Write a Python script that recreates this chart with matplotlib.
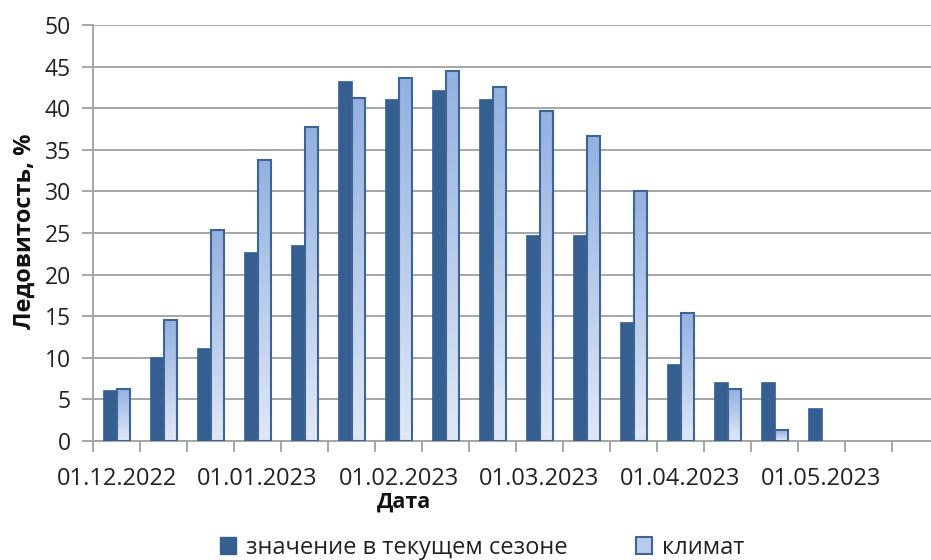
import numpy as np
import matplotlib.pyplot as plt
from matplotlib.patches import Rectangle
from matplotlib.colors import LinearSegmentedColormap

plt.rcParams['font.family'] = ['Open Sans', 'DejaVu Sans']

# декадные даты
dates = ["01.12.2022", "10.12.2022", "20.12.2022", "01.01.2023", "10.01.2023",
         "20.01.2023", "01.02.2023", "10.02.2023", "20.02.2023", "01.03.2023",
         "10.03.2023", "20.03.2023", "01.04.2023", "10.04.2023", "20.04.2023",
         "01.05.2023", "10.05.2023", "20.05.2023"]
tekushiy = [6.1, 10.1, 11.2, 22.7, 23.6, 43.3, 41.1, 42.2, 41.1, 24.7,
            24.7, 14.3, 9.2, 7.1, 7.1, 4.0, np.nan, np.nan]
klimat = [6.2, 14.5, 25.4, 33.8, 37.7, 41.2, 43.6, 44.5, 42.5, 39.7,
          36.6, 30.1, 15.4, 6.2, 1.3, np.nan, np.nan, np.nan]

dark = "#365f91"
edge = "#3c6496"
grad = LinearSegmentedColormap.from_list("g", ["#e0e8f6", "#93b1e1"])

fig = plt.figure(figsize=(9.31, 5.6), dpi=100)
ax = fig.add_axes([93/931, 1 - 441/560, 846/931, 416/560])

x = np.arange(len(dates))
w = 0.285
ax.bar(x - w/2, tekushiy, width=w, color=dark, edgecolor=dark, linewidth=0.5, zorder=3)

g = np.linspace(0, 1, 100).reshape(-1, 1)
for xi, v in zip(x, klimat):
    if np.isnan(v):
        continue
    ax.imshow(g, extent=[xi, xi + w, 0, v], origin='lower', aspect='auto',
              cmap=grad, zorder=3, interpolation='bilinear')
    ax.add_patch(Rectangle((xi, 0), w, v, facecolor='none', edgecolor=edge,
                           linewidth=1.5, zorder=4))

ax.set_xlim(-0.5, len(dates) - 0.5)
ax.set_ylim(0, 50)
ax.set_yticks(np.arange(0, 51, 5))
ax.grid(axis='y', color='#a6a6a6', linewidth=1.4)
ax.set_axisbelow(True)

ax.set_xticks(x[::3])
ax.set_xticklabels(dates[::3])
ax.set_xticks(np.arange(-0.5, len(dates), 1), minor=True)
ax.tick_params(axis='x', which='major', length=0, pad=19, labelsize=17, colors='#222222')
ax.tick_params(axis='x', which='minor', length=8, width=1.4, color='#a6a6a6')
ax.tick_params(axis='y', length=8, width=1.4, color='#a6a6a6', pad=8, labelsize=16.5,
               labelcolor='#222222')

for s in ['top', 'right']:
    ax.spines[s].set_visible(False)
for s in ['left', 'bottom']:
    ax.spines[s].set_color('#a6a6a6')
    ax.spines[s].set_linewidth(1.4)

fig.text(25/931, 1 - 231/560, "Ледовитость, %", rotation=90, ha='center', va='center',
         fontsize=17, fontweight='bold', color='#111111')
fig.text(404/931, 1 - 502/560, "Дата", ha='center', va='center',
         fontsize=15.5, fontweight='bold', color='#111111')

h1 = Rectangle((0, 0), 1, 1, facecolor=dark, edgecolor=dark)
h2 = Rectangle((0, 0), 1, 1, facecolor='#b9cbeb', edgecolor=edge, linewidth=1.5)
fig.legend([h1, h2], ["значение в текущем сезоне", "климат"], ncol=2,
           loc='center', bbox_to_anchor=(482/931, 1 - 548/560), frameon=False,
           fontsize=17, handlelength=0.7, handleheight=0.7, handletextpad=0.4,
           columnspacing=2.9, labelcolor='#222222')

fig.savefig("out.png", dpi=100)
